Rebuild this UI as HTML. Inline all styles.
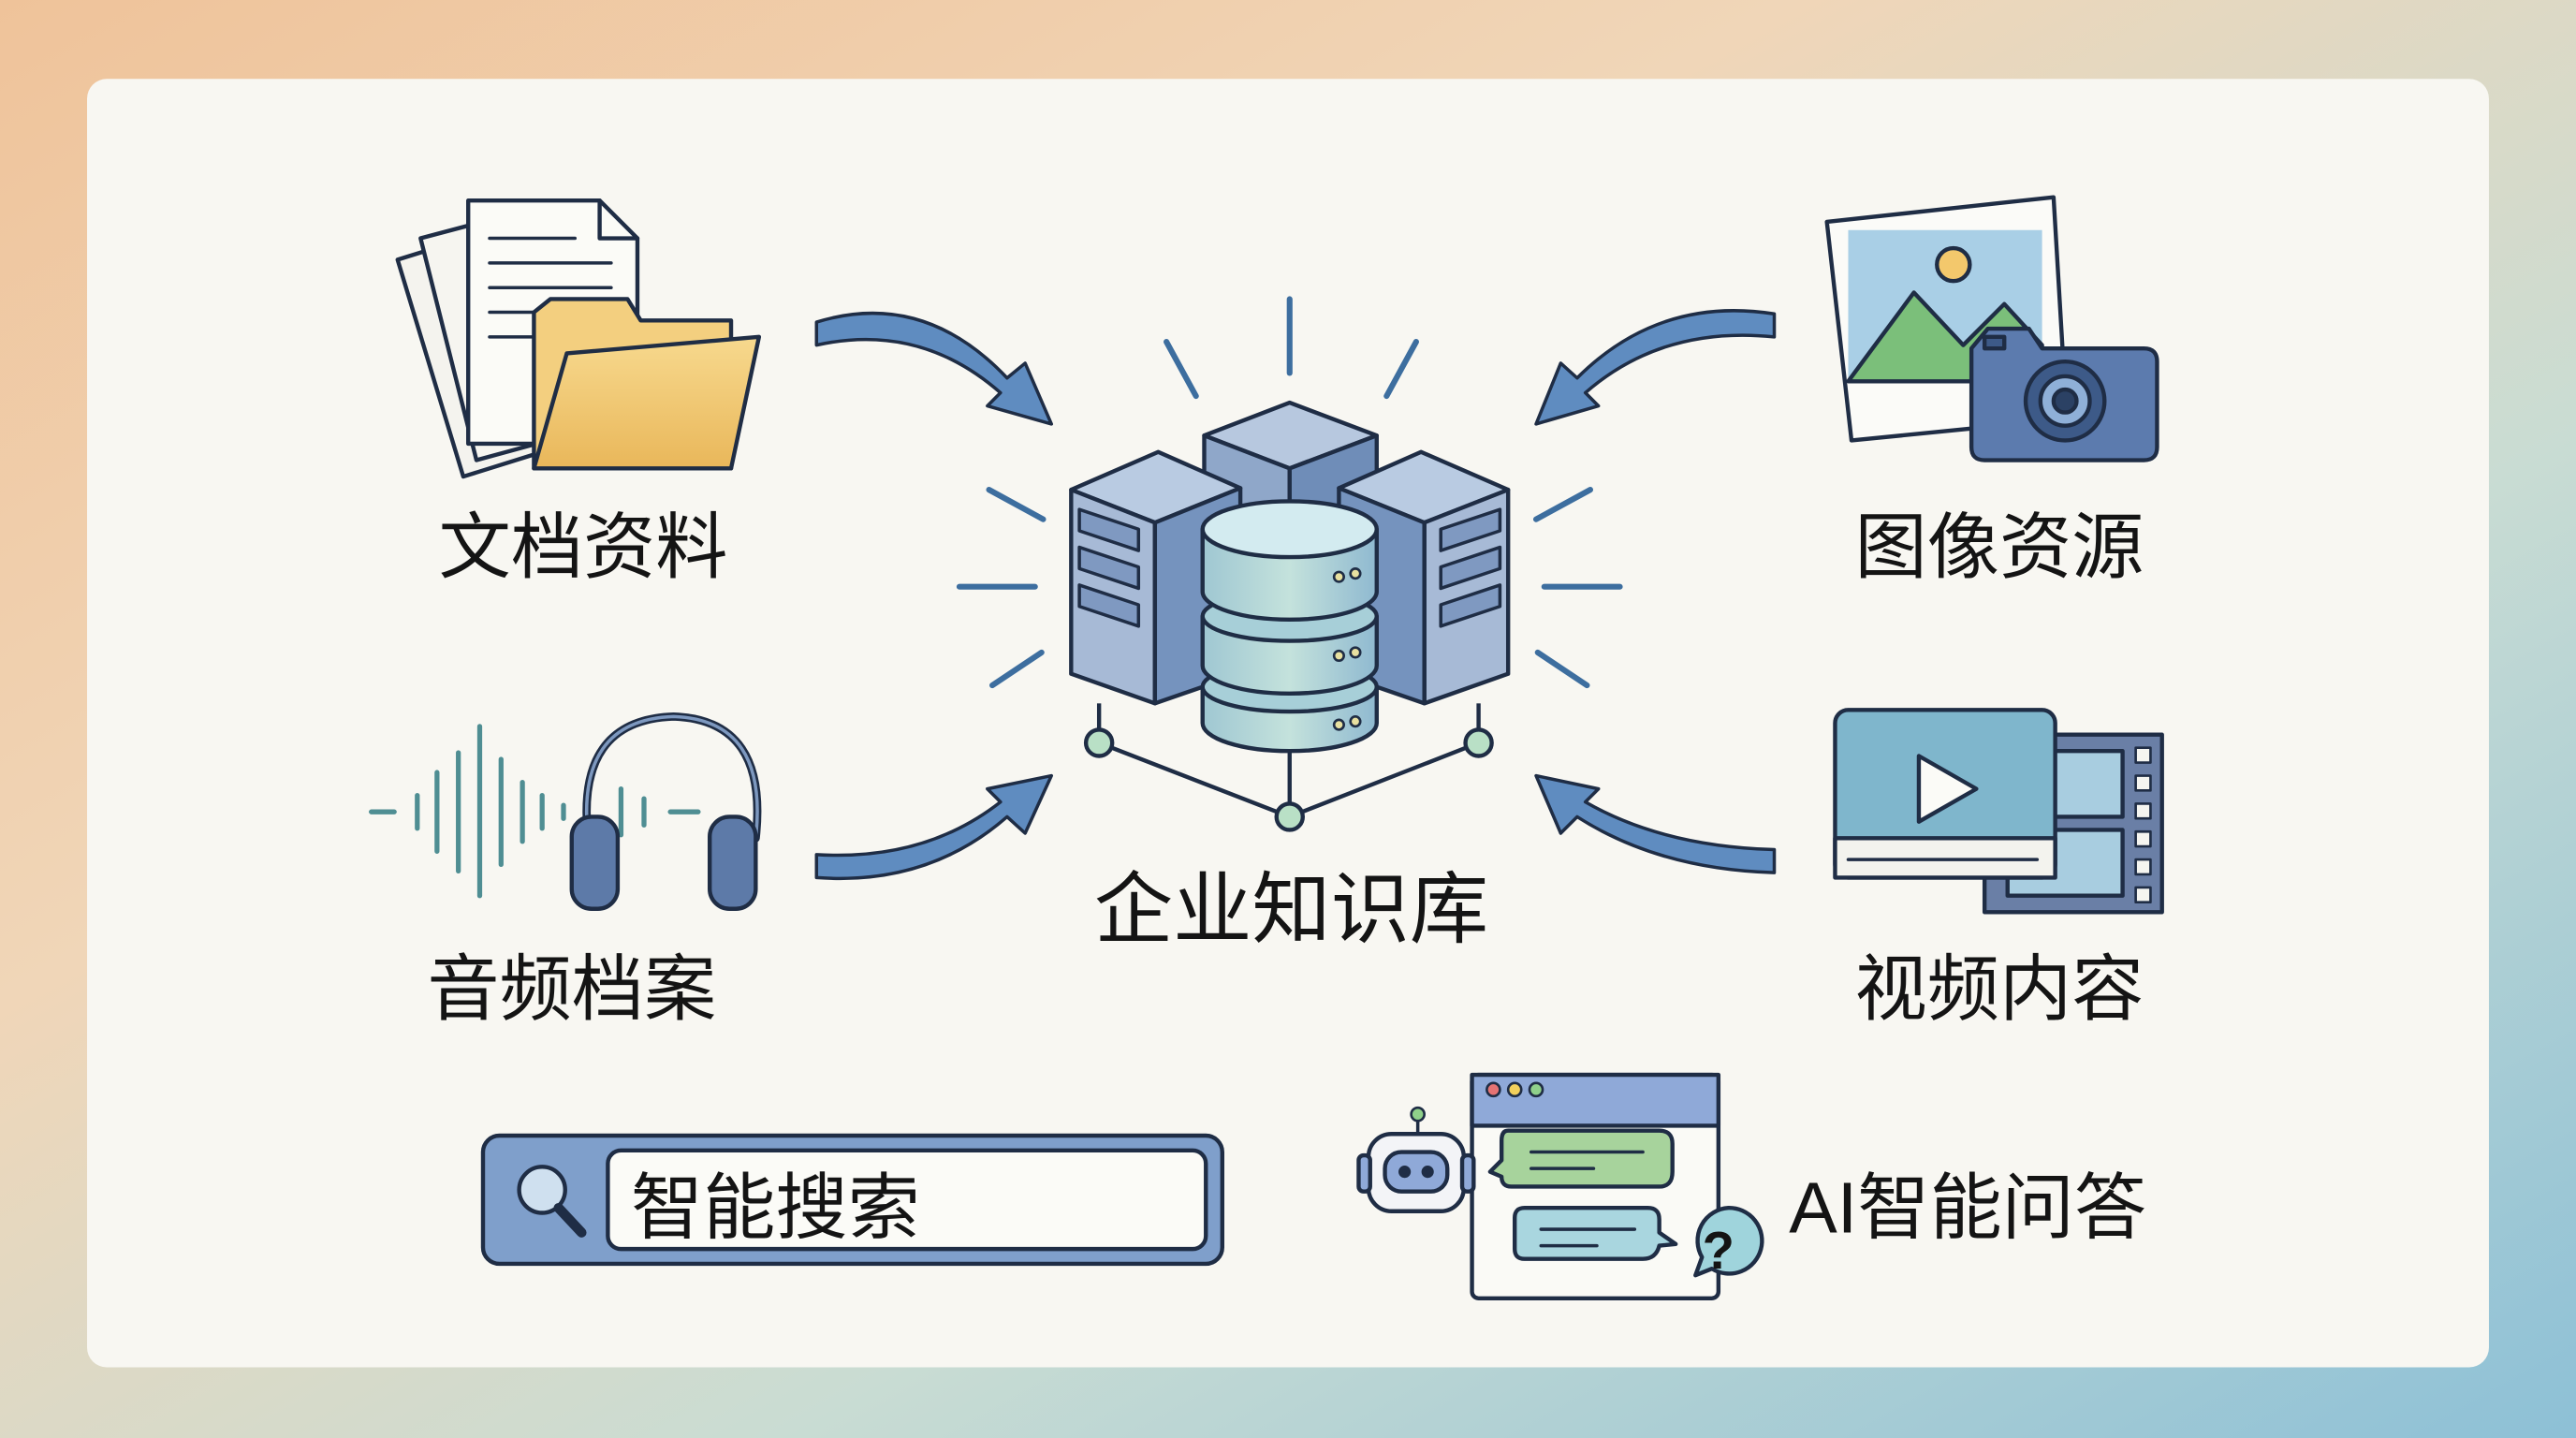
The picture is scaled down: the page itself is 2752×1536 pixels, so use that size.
<!DOCTYPE html>
<html><head><meta charset="utf-8"><style>
html,body{margin:0;padding:0;width:2752px;height:1536px;overflow:hidden}
svg{display:block}
text{font-family:"Liberation Sans","Noto Sans CJK SC",sans-serif;fill:#141414}
</style></head><body>
<svg width="2752" height="1536" viewBox="0 0 1568 875" preserveAspectRatio="none" xmlns="http://www.w3.org/2000/svg">
<defs>
<linearGradient id="bg" x1="0" y1="0" x2="1" y2="1">
<stop offset="0" stop-color="#efc39a"/><stop offset="0.35" stop-color="#f0d6b8"/><stop offset="0.65" stop-color="#c9dcd3"/><stop offset="1" stop-color="#8dc0d6"/>
</linearGradient>
<linearGradient id="fold" x1="0" y1="0" x2="0" y2="1"><stop offset="0" stop-color="#f7d98e"/><stop offset="1" stop-color="#e9b75a"/></linearGradient>
<linearGradient id="cyl" x1="0" y1="0" x2="1" y2="0"><stop offset="0" stop-color="#9fc7d2"/><stop offset="0.5" stop-color="#c4e2dc"/><stop offset="1" stop-color="#8fb9d0"/></linearGradient>
</defs>
<rect width="1568" height="875" fill="url(#bg)"/>
<rect x="53" y="48" width="1462" height="784" rx="12" fill="#f8f7f2"/>

<g stroke="#1f2d45" stroke-width="2.5" stroke-linejoin="round" stroke-linecap="round">
<polygon points="242,158 300,140 330,275 282,290" fill="#f4f3ee"/>
<polygon points="256,145 320,128 345,265 290,280" fill="#f6f5f0"/>
<polygon points="285,122 365,122 388,145 388,270 285,270" fill="#fbfbf7"/>
<path d="M365,122 V145 H388" fill="none"/>
<g stroke-width="2"><line x1="298" y1="145" x2="350" y2="145"/><line x1="298" y1="160" x2="372" y2="160"/><line x1="298" y1="175" x2="372" y2="175"/><line x1="298" y1="190" x2="360" y2="190"/><line x1="298" y1="205" x2="340" y2="205"/></g>
<path d="M325,190 L325,285 L445,285 L445,195 L390,195 L382,182 L335,182 Z" fill="#f3cf7f"/>
<path d="M325,285 L345,215 L462,205 L445,285 Z" fill="url(#fold)"/>

<polygon points="1112,135 1250,120 1258,255 1127,268" fill="#fbfbf8"/>
<rect x="1125" y="140" width="118" height="92" fill="#a9cfe6" stroke="none"/>
<path d="M1125,232 L1165,178 L1195,210 L1220,185 L1243,210 L1243,232 Z" fill="#7bbf7a"/>
<circle cx="1189" cy="161" r="10" fill="#f3c86c"/>
<path d="M1200,212 L1210,200 L1235,200 L1243,212 L1305,212 Q1313,212 1313,220 L1313,272 Q1313,280 1305,280 L1208,280 Q1200,280 1200,272 Z" fill="#5c7bae"/>
<circle cx="1257" cy="244" r="24" fill="#3d5a88"/><circle cx="1257" cy="244" r="15" fill="#8fb0d8"/><circle cx="1257" cy="244" r="7" fill="#2b4164"/>
<rect x="1208" y="205" width="12" height="7" fill="#3d5a88"/>

<g stroke="#4f8e93" stroke-width="3">
<line x1="226" y1="494" x2="240" y2="494"/><line x1="254" y1="484" x2="254" y2="504"/><line x1="266" y1="470" x2="266" y2="518"/><line x1="279" y1="458" x2="279" y2="530"/><line x1="292" y1="442" x2="292" y2="545"/><line x1="305" y1="462" x2="305" y2="526"/><line x1="318" y1="476" x2="318" y2="512"/><line x1="330" y1="484" x2="330" y2="504"/><line x1="343" y1="490" x2="343" y2="498"/><line x1="378" y1="480" x2="378" y2="508"/><line x1="392" y1="486" x2="392" y2="502"/><line x1="408" y1="494" x2="425" y2="494"/>
</g>
<path d="M358,510 Q350,438 410,436 Q468,438 460,510" fill="none" stroke-width="5"/>
<path d="M358,510 Q350,438 410,436 Q468,438 460,510" fill="none" stroke="#7d98bf" stroke-width="2"/>
<rect x="348" y="497" width="28" height="56" rx="12" fill="#5d7aa8"/>
<rect x="432" y="497" width="28" height="56" rx="12" fill="#5d7aa8"/>

<rect x="1208" y="447" width="108" height="108" fill="#6a7fa6"/>
<rect x="1222" y="457" width="70" height="40" fill="#a8cde0"/><rect x="1222" y="505" width="70" height="40" fill="#a8cde0"/>
<g fill="#f5f5f0" stroke-width="1.5"><rect x="1300" y="455" width="9" height="9"/><rect x="1300" y="472" width="9" height="9"/><rect x="1300" y="489" width="9" height="9"/><rect x="1300" y="506" width="9" height="9"/><rect x="1300" y="523" width="9" height="9"/><rect x="1300" y="540" width="9" height="9"/></g>
<rect x="1117" y="432" width="134" height="102" rx="8" fill="#7fb6cc"/>
<rect x="1117" y="510" width="134" height="24" fill="#f3f3ee"/>
<polygon points="1168,460 1168,500 1203,480" fill="#fbfbf7"/>
<line x1="1125" y1="523" x2="1240" y2="523" stroke-width="2"/>

<rect x="294" y="691" width="450" height="78" rx="10" fill="#7f9fcb"/>
<rect x="370" y="700" width="364" height="60" rx="8" fill="#fbfbf7"/>
<circle cx="330" cy="724" r="14" fill="#cfe0ef"/><line x1="340" y1="735" x2="354" y2="750" stroke-width="6"/>

<rect x="896" y="654" width="150" height="136" rx="4" fill="#fafaf6"/>
<path d="M896,654 H1046 V685 H896 Z" fill="#8fa9d8"/>
<circle cx="909" cy="663" r="4" fill="#e57373" stroke-width="1.5"/><circle cx="922" cy="663" r="4" fill="#f2d05c" stroke-width="1.5"/><circle cx="935" cy="663" r="4" fill="#8fd08a" stroke-width="1.5"/>
<path d="M918,688 H1010 Q1018,688 1018,696 V713 Q1018,722 1010,722 H920 Q914,722 914,716 L907,713 L914,706 V694 Q914,688 918,688 Z" fill="#a7d39c"/>
<path d="M928,735 H1003 Q1010,735 1010,742 V750 L1020,757 L1010,758 Q1008,766 1000,766 H928 Q922,766 922,760 V741 Q922,735 928,735 Z" fill="#a9d6df"/>
<g stroke-width="2"><line x1="932" y1="701" x2="1000" y2="701"/><line x1="932" y1="711" x2="970" y2="711"/><line x1="938" y1="748" x2="995" y2="748"/><line x1="938" y1="758" x2="972" y2="758"/></g>
<path d="M1052,735 A20,20 0 1 1 1042,772 L1032,776 L1036,765 A20,20 0 0 1 1052,735 Z" fill="#9fd4dc"/>
<line x1="863" y1="690" x2="863" y2="682" stroke-width="2"/><circle cx="863" cy="678" r="4" fill="#8fd08a" stroke-width="1.5"/>
<rect x="833" y="690" width="58" height="47" rx="14" fill="#f3f4f7"/>
<rect x="843" y="701" width="38" height="24" rx="10" fill="#8fa9d8"/>
<circle cx="855" cy="713" r="2.5" fill="#1f2d45"/><circle cx="869" cy="713" r="2.5" fill="#1f2d45"/>
<rect x="827" y="703" width="7" height="22" rx="3" fill="#8fa9d8"/><rect x="890" y="703" width="7" height="22" rx="3" fill="#8fa9d8"/>
</g>
<text x="1046" y="772" font-size="32" font-weight="bold" text-anchor="middle" font-family="Liberation Sans">?</text>

<g stroke="#3d6e9f" stroke-width="3.5" stroke-linecap="round">
<line x1="785" y1="182" x2="785" y2="227"/><line x1="710" y1="208" x2="728" y2="241"/><line x1="862" y1="208" x2="844" y2="241"/>
<line x1="602" y1="298" x2="635" y2="316"/><line x1="968" y1="298" x2="935" y2="316"/>
<line x1="584" y1="357" x2="630" y2="357"/><line x1="940" y1="357" x2="986" y2="357"/>
<line x1="604" y1="417" x2="634" y2="397"/><line x1="966" y1="417" x2="936" y2="397"/>
</g>

<g stroke="#1f2d45" stroke-width="2.5" stroke-linejoin="round">
<polygon points="733,265 785,245 838,265 785,285" fill="#b7c8df"/>
<polygon points="733,265 785,285 785,330 733,310" fill="#8fa7c9"/>
<polygon points="785,285 838,265 838,310 785,330" fill="#6f8db8"/>
<g>
<polygon points="652,298 705,275 755,297 703,318" fill="#b9cbe2"/>
<polygon points="652,298 703,318 703,428 652,410" fill="#a7bad6"/>
<polygon points="703,318 755,297 755,410 703,428" fill="#7593be"/>
<g fill="#7f99c1" stroke-width="2"><polygon points="657,310 693,322 693,335 657,323"/><polygon points="657,333 693,345 693,358 657,346"/><polygon points="657,356 693,368 693,381 657,369"/></g>
</g>
<g>
<polygon points="918,298 865,275 815,297 867,318" fill="#b9cbe2"/>
<polygon points="918,298 867,318 867,428 918,410" fill="#a7bad6"/>
<polygon points="867,318 815,297 815,410 867,428" fill="#7593be"/>
<g fill="#7f99c1" stroke-width="2"><polygon points="913,310 877,322 877,335 913,323"/><polygon points="913,333 877,345 877,358 913,346"/><polygon points="913,356 877,368 877,381 913,369"/></g>
</g>
<line x1="669" y1="428" x2="669" y2="452"/><line x1="900" y1="428" x2="900" y2="452"/><line x1="785" y1="455" x2="785" y2="497"/>
<polyline points="669,452 785,497 900,452" fill="none"/>
<circle cx="669" cy="452" r="8" fill="#b9e0c6"/><circle cx="900" cy="452" r="8" fill="#b9e0c6"/><circle cx="785" cy="497" r="8" fill="#b9e0c6"/>
<path d="M732,418 V440 A53,17 0 0 0 838,440 V418 Z" fill="url(#cyl)"/>
<ellipse cx="785" cy="418" rx="53" ry="15" fill="#a7cfd8"/>
<path d="M732,375 V405 A53,17 0 0 0 838,405 V375 Z" fill="url(#cyl)"/>
<ellipse cx="785" cy="375" rx="53" ry="15" fill="#a7cfd8"/>
<path d="M732,322 V360 A53,17 0 0 0 838,360 V322 Z" fill="url(#cyl)"/>
<ellipse cx="785" cy="322" rx="53" ry="17" fill="#d3ebf0"/>
<g fill="#e8e0a0" stroke-width="1.5"><circle cx="815" cy="351" r="3"/><circle cx="825" cy="349" r="3"/><circle cx="815" cy="399" r="3"/><circle cx="825" cy="397" r="3"/><circle cx="815" cy="441" r="3"/><circle cx="825" cy="439" r="3"/></g>
</g>

<g fill="#5f8cc0" stroke="#1f2d45" stroke-width="2" stroke-linejoin="round">
<path d="M497,196 Q562,176 613,230 L624,221 L640,258 L601,247 L609,239 Q560,196 497,210 Z"/>
<path d="M1080,191 Q1010,180 960,230 L950,221 L935,258 L973,247 L965,239 Q1012,198 1080,205 Z"/>
<path d="M497,534 Q565,539 613,497 L624,507 L640,472 L601,480 L609,488 Q563,524 497,520 Z"/>
<path d="M1080,531 Q1010,529 960,497 L950,507 L935,472 L973,480 L965,488 Q1012,515 1080,517 Z"/>
</g>

<g font-size="44">
<text x="355" y="348" text-anchor="middle">文档资料</text>
<text x="1217" y="348" text-anchor="middle">图像资源</text>
<text x="348" y="617" text-anchor="middle">音频档案</text>
<text x="1217" y="617" text-anchor="middle">视频内容</text>
<text x="786" y="570" text-anchor="middle" font-size="48">企业知识库</text>
<text x="384" y="750">智能搜索</text>
<text x="1089" y="750">AI智能问答</text>
</g>
</svg>
</body></html>
